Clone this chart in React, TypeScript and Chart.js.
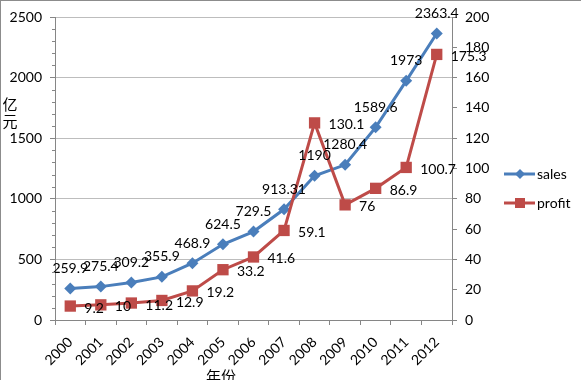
import React, { useEffect, useRef } from "react";
import { Chart, registerables } from "chart.js";

Chart.register(...registerables);

const years = ["2000", "2001", "2002", "2003", "2004", "2005", "2006", "2007", "2008", "2009", "2010", "2011", "2012"];
const sales = [259.9, 275.4, 309.2, 355.9, 468.9, 624.5, 729.5, 913.31, 1190, 1280.4, 1589.6, 1973, 2363.4];
const profit = [9.2, 10, 11.2, 12.9, 19.2, 33.2, 41.6, 59.1, 130.1, 76, 86.9, 100.7, 175.3];
const seriesNames = ["sales", "profit"];
const yTitleChars = ["亿", "元"];
const xTitle = "年份";

const BLUE = "#4A7EBB";
const RED = "#BE4B48";
const FONT = "Lato, 'Liberation Sans', sans-serif";
const AXIS = "#868686";
const GRID = "#bdbdbd";

const decor = {
  id: "decor",
  afterDatasetsDraw(chart: any) {
    const ctx = chart.ctx;
    ctx.save();
    ctx.font = `14px ${FONT}`;
    ctx.fillStyle = "#000";
    ctx.textBaseline = "middle";
    ctx.textAlign = "center";
    chart.getDatasetMeta(0).data.forEach((pt: any, i: number) => {
      ctx.fillText(String(sales[i]), pt.x, pt.y - 20);
    });
    ctx.textAlign = "left";
    chart.getDatasetMeta(1).data.forEach((pt: any, i: number) => {
      ctx.fillText(String(profit[i]), pt.x + 14, pt.y + 2);
    });
    ctx.restore();
  },
  afterDraw(chart: any) {
    const ctx = chart.ctx;
    const ys = chart.scales.y;
    ctx.save();
    // minor ticks on left axis
    ctx.strokeStyle = AXIS;
    ctx.lineWidth = 1;
    for (let v = 100; v < 2500; v += 100) {
      if (v % 500 === 0) continue;
      const y = Math.round(ys.getPixelForValue(v)) + 0.5;
      ctx.beginPath();
      ctx.moveTo(ys.right - 3, y);
      ctx.lineTo(ys.right, y);
      ctx.stroke();
    }
    // outer frame (top & left visible)
    ctx.strokeStyle = "#8c8c8c";
    ctx.strokeRect(0.5, 0.5, 2000, 2000);
    // axis titles
    ctx.fillStyle = "#000";
    ctx.textAlign = "center";
    ctx.textBaseline = "middle";
    ctx.font = `15px 'Noto Sans CJK SC', sans-serif`;
    ctx.fillText(yTitleChars[0], 10, 104);
    ctx.fillText(yTitleChars[1], 10, 121);
    ctx.font = `15px 'Noto Sans CJK SC', sans-serif`;
    ctx.fillText(xTitle, 221, 376);
    // legend
    const items = [
      { name: seriesNames[0], color: BLUE, shape: "diamond", y: 174 },
      { name: seriesNames[1], color: RED, shape: "square", y: 203 },
    ];
    items.forEach((it) => {
      ctx.strokeStyle = it.color;
      ctx.fillStyle = it.color;
      ctx.lineWidth = 3;
      ctx.beginPath();
      ctx.moveTo(504, it.y);
      ctx.lineTo(535, it.y);
      ctx.stroke();
      if (it.shape === "diamond") {
        ctx.beginPath();
        ctx.moveTo(520, it.y - 5);
        ctx.lineTo(525, it.y);
        ctx.lineTo(520, it.y + 5);
        ctx.lineTo(515, it.y);
        ctx.closePath();
        ctx.fill();
      } else {
        ctx.fillRect(515, it.y - 5, 10, 10);
      }
      ctx.fillStyle = "#000";
      ctx.font = `14px ${FONT}`;
      ctx.textAlign = "left";
      ctx.fillText(it.name, 537, it.y);
    });
    ctx.restore();
  },
};

export default function App() {
  const ref = useRef<HTMLCanvasElement | null>(null);
  useEffect(() => {
    document.body.style.margin = "0";
    const chart = new Chart(ref.current as HTMLCanvasElement, {
      type: "line",
      data: {
        labels: years,
        datasets: [
          {
            label: seriesNames[0],
            data: sales,
            yAxisID: "y",
            borderColor: BLUE,
            backgroundColor: BLUE,
            borderWidth: 3,
            pointStyle: "rectRot",
            pointRadius: 6,
            pointBorderWidth: 0,
            tension: 0,
            order: 2,
          },
          {
            label: seriesNames[1],
            data: profit,
            yAxisID: "y1",
            borderColor: RED,
            backgroundColor: RED,
            borderWidth: 3,
            pointStyle: "rect",
            pointRadius: 8,
            pointBorderWidth: 0,
            tension: 0,
            order: 1,
          },
        ],
      },
      options: {
        responsive: false,
        animation: false,
        devicePixelRatio: 1,
        layout: { padding: { top: 17, left: 0, right: 0, bottom: 0 } },
        plugins: { legend: { display: false }, tooltip: { enabled: false } },
        scales: {
          x: {
            offset: true,
            afterFit: (s: any) => { s.height = 60; },
            grid: { offset: true, drawOnChartArea: false, drawTicks: true, tickLength: 5, tickColor: AXIS },
            border: { color: AXIS },
            ticks: {
              autoSkip: false,
              minRotation: 45,
              maxRotation: 45,
              padding: 9,
              color: "#000",
              font: { family: FONT, size: 14 },
            },
          },
          y: {
            position: "left",
            min: 0,
            max: 2500,
            afterFit: (s: any) => { s.width = 55; },
            grid: { color: GRID, tickColor: AXIS, tickLength: 5 },
            border: { color: AXIS },
            ticks: {
              stepSize: 500,
              padding: 8,
              color: "#000",
              font: { family: FONT, size: 14 },
              callback: (v: any) => String(v),
            },
          },
          y1: {
            position: "right",
            min: 0,
            max: 200,
            afterFit: (s: any) => { s.width = 129; },
            grid: { drawOnChartArea: false, tickColor: AXIS, tickLength: 5 },
            border: { color: AXIS },
            ticks: {
              stepSize: 20,
              padding: 8,
              color: "#000",
              font: { family: FONT, size: 14 },
              callback: (v: any) => String(v),
            },
          },
        },
      },
      plugins: [decor],
    });
    return () => chart.destroy();
  }, []);
  return (
    <div style={{ position: "absolute", left: 0, top: 0, width: 581, height: 380, background: "#fff" }}>
      <canvas ref={ref} width={581} height={380} />
    </div>
  );
}
